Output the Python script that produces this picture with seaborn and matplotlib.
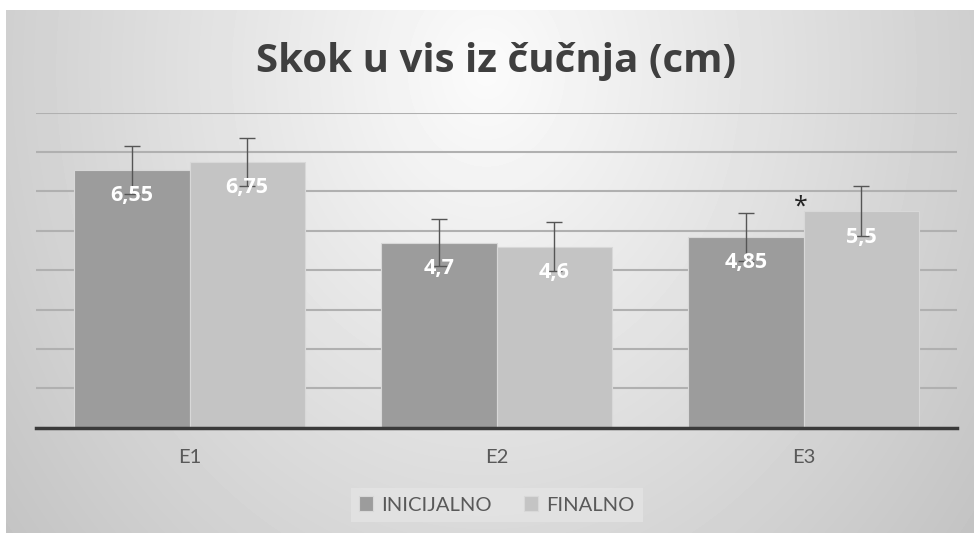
import numpy as np
import pandas as pd
import matplotlib
matplotlib.use('Agg')
import matplotlib.pyplot as plt
import seaborn as sns

# Data
groups = ['E1', 'E2', 'E3']
series = ['INICIJALNO', 'FINALNO']
inicijalno = [6.55, 4.7, 4.85]
finalno = [6.75, 4.6, 5.5]
err_inicijalno = [0.61, 0.6, 0.61]
err_finalno = [0.62, 0.63, 0.63]
title = 'Skok u vis iz čučnja (cm)'

df = pd.DataFrame({
    'grupa': groups * 2,
    'mjerenje': [series[0]] * 3 + [series[1]] * 3,
    'cm': inicijalno + finalno,
})
errors = {series[0]: err_inicijalno, series[1]: err_finalno}

sns.set_theme(style='white')
plt.rcParams['font.family'] = ['Open Sans', 'DejaVu Sans']

W, H = 974, 533
fig = plt.figure(figsize=(W / 100, H / 100), dpi=100)
fig.patch.set_facecolor('white')

# radial grey background of the chart frame
bg = fig.add_axes([6 / W, 0, (W - 6) / W, (H - 10) / H], zorder=-10)
yy, xx = np.mgrid[0:523, 0:968]
d = np.sqrt(((xx - 480) / 450.0) ** 2 + ((yy - 60) / 550.0) ** 2)
shade = np.clip(0.985 - 0.16 * d, 0.75, 1)
bg.imshow(shade, cmap='gray', vmin=0, vmax=1, aspect='auto', interpolation='bilinear')
bg.set_axis_off()

ax = fig.add_axes([36 / W, 105.3 / H, 921 / W, 315 / H])
ax.set_facecolor('none')
sns.barplot(data=df, x='grupa', y='cm', hue='mjerenje', palette=['#9c9c9c', '#c4c4c4'],
            width=0.75, errorbar=None, saturation=1, edgecolor='#d8d8d8', linewidth=0.8,
            ax=ax, zorder=2)

ax.set_ylim(0, 8)
ax.set_xlim(-0.5, 2.5)
ax.set_yticks(range(1, 9))
ax.yaxis.grid(True, color='#b0b0b0', linewidth=1.5, zorder=0)
ax.set_axisbelow(True)
ax.tick_params(axis='y', left=False, labelleft=False)
ax.tick_params(axis='x', length=0, pad=15, labelcolor='#595959')
for lbl in ax.get_xticklabels():
    lbl.set_family(['Lato', 'DejaVu Sans'])
    lbl.set_fontsize(14.5)
ax.set_xlabel('')
ax.set_ylabel('')
for s in ['left', 'right', 'top']:
    ax.spines[s].set_visible(False)
ax.spines['bottom'].set_color('#3a3a3a')
ax.spines['bottom'].set_linewidth(2.5)
ax.spines['bottom'].set_zorder(3)

# error bars and value labels
for name, cont in zip(series, ax.containers):
    for bar, e in zip(cont, errors[name]):
        x = bar.get_x() + bar.get_width() / 2
        h = bar.get_height()
        ax.errorbar(x, h, yerr=e, fmt='none', ecolor='#555555', elinewidth=1,
                    capsize=6, capthick=1, zorder=4)
        ax.annotate(f'{h:g}'.replace('.', ','), (x, h), xytext=(0, -26),
                    textcoords='offset pixels', ha='center', va='center',
                    fontsize=15.5, fontweight='bold', color='white', zorder=5)

# significance mark
ax.text(1.99, 5.6, '*', ha='center', va='center', fontsize=18, color='#222222', zorder=5)

handles, labels = ax.get_legend_handles_labels()
ax.legend(handles, labels, ncol=2, loc='center', bbox_to_anchor=(497 / W, 1 - 505 / H),
          bbox_transform=fig.transFigure, frameon=True, facecolor='#e4e4e4',
          edgecolor='none', framealpha=0.8, fancybox=False, handlelength=0.7,
          handleheight=0.7, handletextpad=0.4, columnspacing=1.6,
          prop={'family': ['Lato', 'DejaVu Sans'], 'size': 14.5}, labelcolor='#595959')

fig.text(496 / W, 1 - 72 / H, title, ha='center', va='baseline', fontsize=29,
         fontweight='bold', color='#3f3f3f')

fig.savefig('out.png', dpi=100)
